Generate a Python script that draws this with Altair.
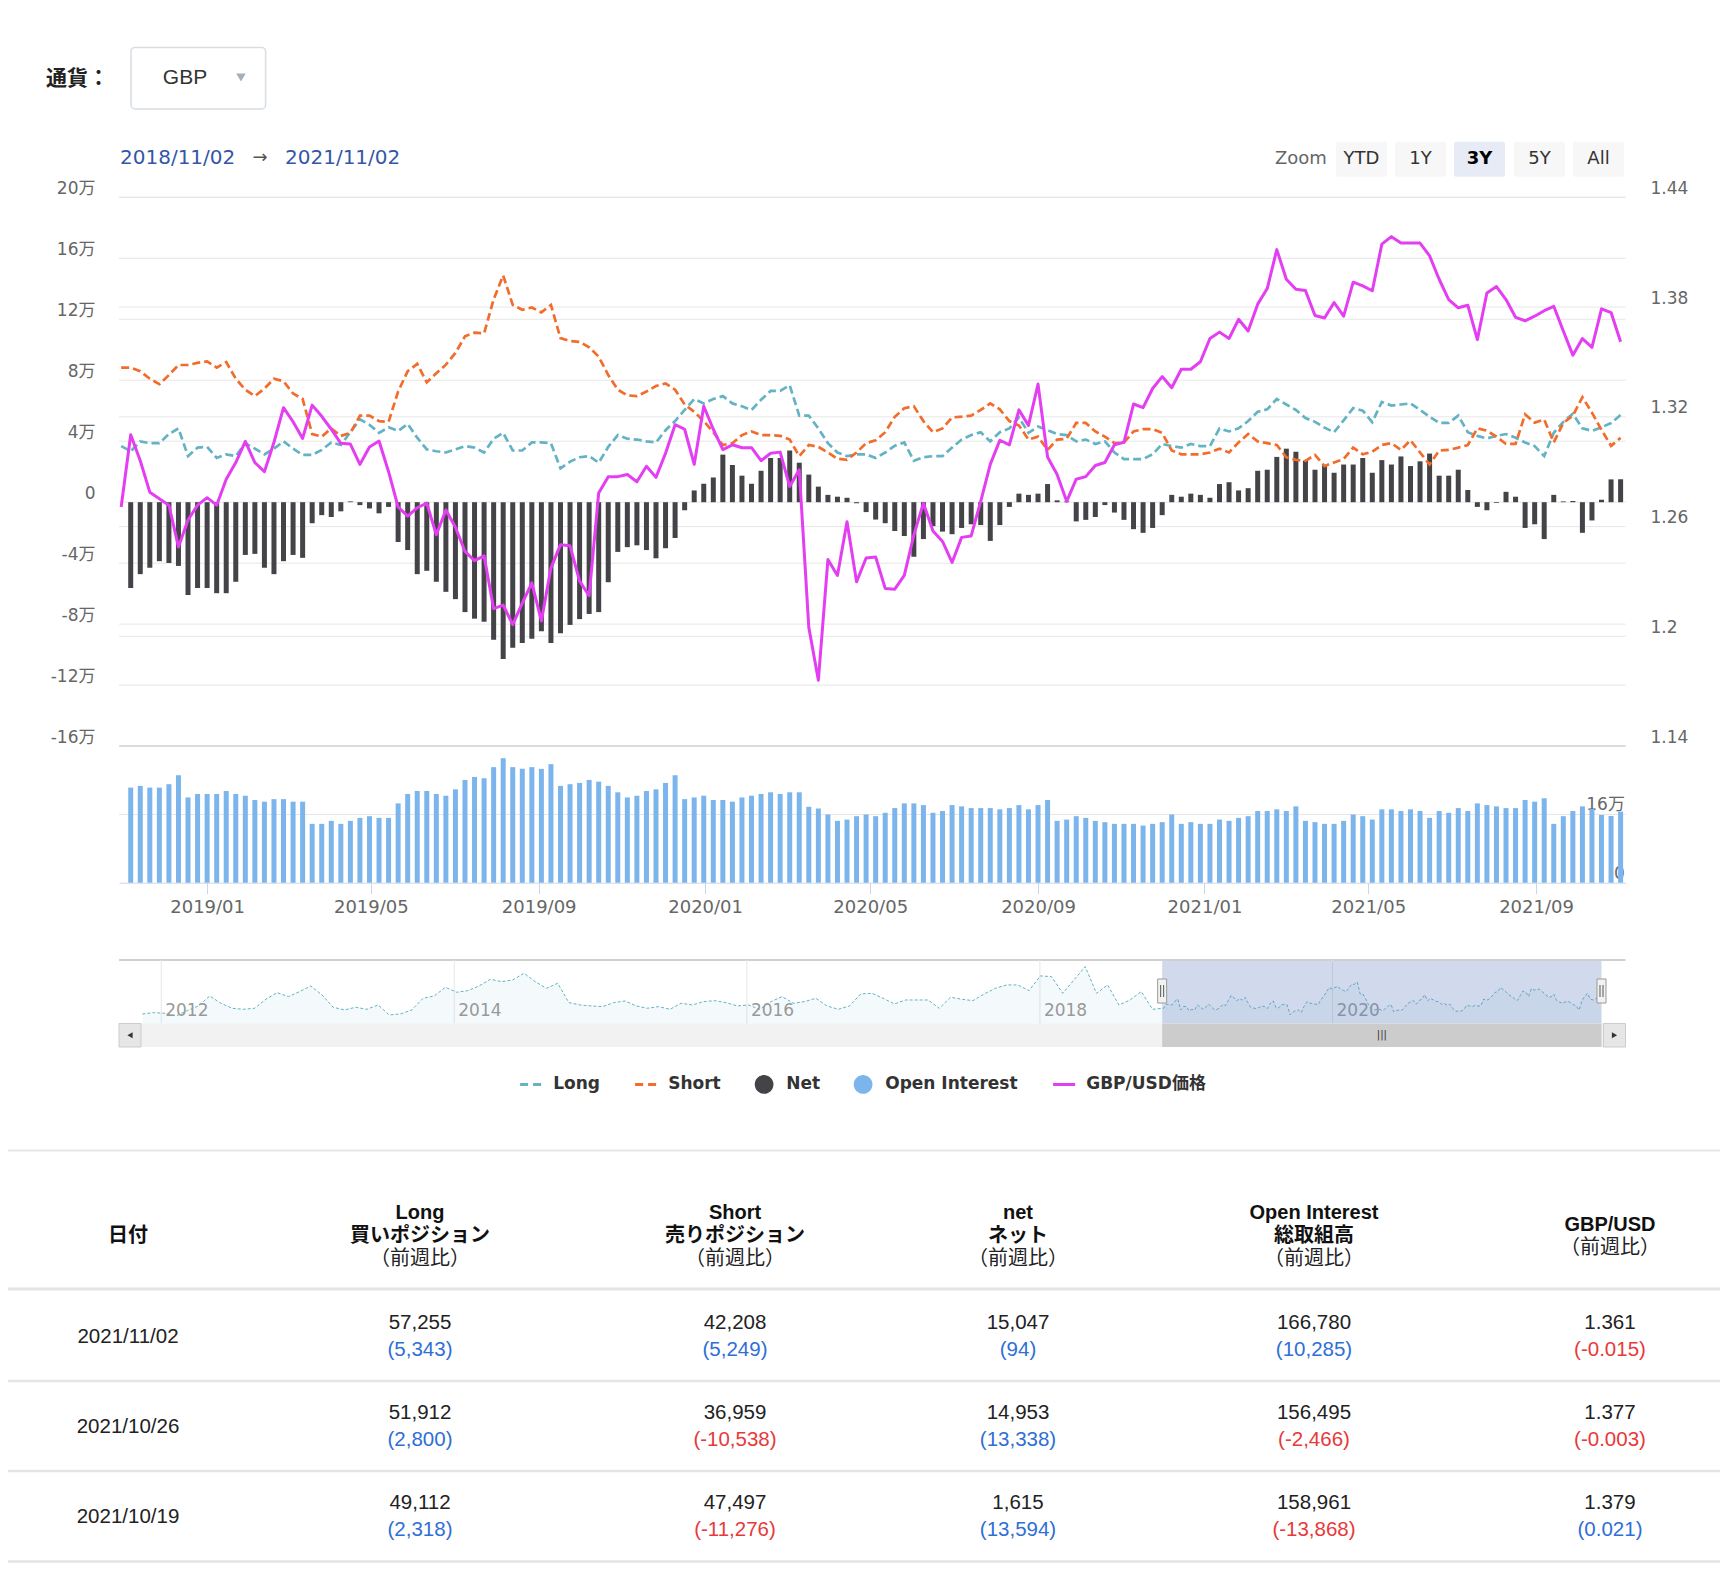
import altair as alt
import pandas as pd

# ============================ data ============================
CURRENCY = "GBP"
RANGE_FROM, RANGE_TO = "2018/11/02", "2021/11/02"
ZOOM_BUTTONS = ["YTD", "1Y", "3Y", "5Y", "All"]
ZOOM_ACTIVE = "3Y"
SERIES = ["Long", "Short", "Net", "Open Interest", "GBP/USD価格"]

# weekly (Tuesday) COT data, in 万 contracts; first point 2018-10-30
LINE_START = "2018-10-30"
LONG = [3.68,
        3.34, 3.99, 3.87, 3.87, 4.47, 4.84, 3.02, 3.58, 3.63, 2.90,
        3.14, 3.02, 3.87, 3.51, 3.14, 3.51, 3.99, 3.51, 3.10, 3.10,
        3.43, 3.92, 3.75, 4.59, 5.44, 5.08, 4.55, 4.91, 4.67, 5.13,
        4.23, 3.46, 3.34, 3.26, 3.46, 3.68, 3.58, 3.26, 4.16, 4.55,
        3.39, 3.39, 3.92, 3.92, 3.87, 2.22, 2.66, 2.95, 3.02, 2.59,
        3.63, 4.40, 4.16, 4.11, 3.99, 3.92, 4.72, 5.32, 6.05, 6.77,
        6.48, 6.77, 6.96, 6.48, 6.29, 6.05, 6.72, 7.30, 7.30, 7.67,
        5.68, 5.68, 4.84, 3.87, 3.26, 3.02, 3.14, 3.14, 2.90, 3.26,
        3.70, 3.92, 2.71, 2.95, 3.02, 3.02, 3.58, 4.11, 4.40, 4.59,
        3.99, 4.59, 4.84, 5.56, 4.55, 4.96, 4.72, 4.47, 4.40, 3.99,
        4.11, 3.82, 3.99, 3.26, 2.83, 2.83, 2.83, 3.14, 3.82, 3.68,
        3.58, 3.82, 3.68, 3.68, 4.84, 4.64, 4.84, 5.32, 5.93, 6.09,
        6.77, 6.41, 6.05, 5.52, 5.27, 4.89, 4.59, 5.37, 6.17, 6.00,
        5.25, 6.58, 6.34, 6.41, 6.48, 6.05, 5.61, 5.20, 5.20, 5.68,
        4.59, 4.35, 4.18, 4.35, 4.47, 4.23, 3.92, 3.68, 3.02, 4.55,
        5.27, 5.80, 4.84, 4.6794, 4.9112, 5.1912, 5.7255]
SHORT = [8.83,
         8.83, 8.59, 8.10, 7.74, 8.34, 9.00, 9.00, 9.14, 9.24, 8.83,
         9.19, 8.10, 7.38, 6.96, 7.45, 8.10, 7.93, 7.13, 6.77, 4.47,
         4.30, 4.84, 4.35, 4.55, 5.68, 5.68, 5.32, 5.27, 7.26, 8.59,
         9.07, 7.86, 8.46, 9.02, 9.79, 10.88, 11.12, 11.08, 13.30, 14.87,
         12.94, 12.62, 12.77, 12.45, 12.94, 10.76, 10.57, 10.52, 10.16, 9.55,
         8.34, 7.38, 7.01, 6.96, 7.26, 7.62, 7.79, 7.38, 6.41, 5.93,
         5.32, 4.59, 3.75, 3.87, 4.40, 4.64, 4.40, 4.40, 4.35, 4.11,
         3.02, 3.75, 3.63, 3.26, 2.85, 2.78, 3.26, 3.87, 4.06, 4.59,
         5.60, 6.17, 6.29, 5.32, 4.59, 4.84, 5.56, 5.61, 5.68, 6.05,
         6.48, 6.09, 5.32, 5.03, 4.11, 4.30, 3.43, 4.11, 4.16, 5.20,
         5.20, 4.64, 4.30, 3.87, 3.92, 4.64, 4.79, 4.79, 4.55, 3.39,
         3.14, 3.14, 3.14, 3.26, 3.51, 3.26, 3.92, 4.47, 3.99, 3.87,
         3.75, 2.95, 2.78, 2.71, 3.10, 2.37, 2.61, 2.83, 3.58, 3.14,
         3.31, 3.75, 3.87, 3.43, 4.06, 3.26, 2.47, 3.39, 3.43, 3.58,
         3.75, 4.84, 4.69, 4.30, 3.82, 3.82, 5.76, 5.22, 5.42, 3.92,
         5.20, 5.68, 6.89, 5.8773, 4.7497, 3.6959, 4.2208]
PRICE = [1.2707,
         1.3102, 1.2960, 1.2788, 1.2752, 1.2717, 1.2489, 1.2636, 1.2717, 1.2758, 1.2717,
         1.2859, 1.2950, 1.3066, 1.2950, 1.2900, 1.3061, 1.3250, 1.3173, 1.3082, 1.3264,
         1.3203, 1.3132, 1.3055, 1.3051, 1.2940, 1.3035, 1.3068, 1.2900, 1.2707, 1.2657,
         1.2703, 1.2728, 1.2555, 1.2691, 1.2596, 1.2464, 1.2414, 1.2440, 1.2151, 1.2171,
         1.2064, 1.2181, 1.2292, 1.2084, 1.2373, 1.2501, 1.2495, 1.2302, 1.2222, 1.2784,
         1.2873, 1.2873, 1.2885, 1.2845, 1.2930, 1.2869, 1.3001, 1.3157, 1.3132, 1.2940,
         1.3258, 1.3132, 1.3021, 1.3047, 1.3031, 1.3031, 1.2960, 1.3001, 1.3007, 1.2819,
         1.2910, 1.2049, 1.1760, 1.2420, 1.2333, 1.2626, 1.2298, 1.2428, 1.2434, 1.2262,
         1.2258, 1.2333, 1.2555, 1.2728, 1.2576, 1.2519, 1.2404, 1.2541, 1.2549, 1.2738,
         1.2940, 1.3072, 1.3047, 1.3238, 1.3153, 1.3379, 1.2980, 1.2885, 1.2738, 1.2859,
         1.2873, 1.2934, 1.2950, 1.3047, 1.3061, 1.3270, 1.3250, 1.3355, 1.3420, 1.3359,
         1.3460, 1.3460, 1.3501, 1.3628, 1.3663, 1.3628, 1.3733, 1.3669, 1.3816, 1.3901,
         1.4114, 1.3952, 1.3897, 1.3891, 1.3754, 1.3740, 1.3825, 1.3750, 1.3936, 1.3916,
         1.3889, 1.4144, 1.4185, 1.4150, 1.4150, 1.4150, 1.4080, 1.3952, 1.3841, 1.3796,
         1.3810, 1.3622, 1.3877, 1.3912, 1.3841, 1.3744, 1.3725, 1.3750, 1.3780, 1.3804,
         1.3669, 1.3537, 1.3628, 1.358, 1.379, 1.377, 1.361]
# bars start one week later: 2018-11-06
NET = [-5.63, -4.72, -4.30, -3.87, -3.99, -4.18, -6.09, -5.63, -5.63, -5.97,
       -5.97, -5.22, -3.46, -3.39, -4.30, -4.72, -3.87, -3.46, -3.65, -1.38,
       -0.85, -0.97, -0.60, 0.05, -0.19, -0.41, -0.73, -0.31, -2.61, -3.14,
       -4.72, -4.50, -5.22, -5.88, -6.36, -7.21, -7.64, -7.84, -9.02, -10.28,
       -9.55, -9.24, -8.95, -8.46, -9.24, -8.59, -8.05, -7.67, -7.33, -7.21,
       -5.25, -3.26, -2.95, -2.83, -3.14, -3.68, -3.02, -2.35, -0.53, 0.77,
       1.21, 1.62, 3.12, 2.44, 1.74, 1.21, 2.06, 2.90, 2.90, 3.39,
       2.59, 1.81, 1.02, 0.48, 0.36, 0.29, -0.07, -0.65, -1.14, -1.38,
       -1.89, -2.22, -3.58, -2.42, -1.57, -1.93, -2.10, -1.69, -1.45, -1.50,
       -2.54, -1.50, -0.31, 0.56, 0.48, 0.56, 1.19, 0.12, 0.05, -1.26,
       -1.16, -0.97, -0.19, -0.68, -1.16, -1.77, -2.01, -1.69, -0.85, 0.48,
       0.36, 0.56, 0.48, 0.29, 1.19, 1.31, 0.77, 0.92, 2.06, 2.13,
       2.97, 3.51, 3.31, 2.73, 2.13, 2.42, 1.93, 2.47, 2.47, 2.90,
       1.93, 2.76, 2.47, 3.00, 2.37, 2.68, 3.19, 1.74, 1.74, 2.13,
       0.80, -0.31, -0.53, -0.05, 0.68, 0.36, -1.69, -1.45, -2.42, 0.48,
       0.05, 0.08, -2.01, -1.1979, 0.1615, 1.4953, 1.5047]
OI = [22.3, 22.7, 22.3, 22.3, 23.1, 25.2, 20.0, 20.8, 20.8, 20.8,
      21.5, 20.8, 20.4, 19.4, 19.0, 19.6, 19.6, 19.0, 19.0, 13.8,
      13.8, 14.5, 13.8, 14.5, 15.2, 15.6, 15.2, 15.2, 18.6, 20.8,
      21.5, 21.5, 20.8, 20.4, 21.9, 24.1, 24.8, 24.5, 27.1, 29.2,
      27.1, 26.7, 27.1, 26.7, 27.8, 22.7, 23.1, 23.4, 24.1, 23.7,
      22.7, 21.2, 20.0, 20.4, 21.5, 21.9, 23.4, 25.2, 19.6, 20.0,
      20.4, 19.4, 19.4, 19.0, 20.0, 20.4, 20.8, 21.2, 20.8, 21.2,
      21.2, 17.8, 17.4, 16.0, 14.5, 14.8, 15.6, 16.0, 15.6, 16.4,
      17.5, 18.6, 18.6, 18.2, 16.4, 16.8, 18.2, 17.9, 17.5, 17.5,
      17.5, 17.2, 17.5, 18.2, 17.2, 18.2, 19.4, 14.5, 14.8, 15.6,
      15.2, 14.5, 14.2, 13.8, 13.8, 13.8, 13.4, 13.8, 14.2, 16.0,
      13.8, 14.2, 13.8, 13.8, 14.8, 14.5, 15.2, 15.6, 16.8, 16.8,
      17.2, 16.8, 17.9, 14.5, 14.2, 13.8, 13.8, 14.5, 16.0, 15.6,
      14.8, 17.2, 17.2, 16.8, 17.2, 16.8, 15.2, 16.8, 16.4, 17.5,
      16.8, 18.6, 18.2, 17.9, 17.5, 17.5, 19.4, 19.0, 19.8, 13.8,
      15.6, 16.8, 17.9, 17.2829, 15.8961, 15.6495, 16.678]
# navigator history of Long (every 4 weeks from 2011-11-15 to 2018-10-09)
NAV_START = "2011-11-15"
NAV_HIST = [2.37, 2.59, 2.48, 2.03, 2.92, 3.70, 5.36, 4.14, 3.31, 3.14,
            3.31, 4.81, 5.91, 5.25, 6.08, 7.02, 5.53, 3.48, 3.03, 3.48,
            3.14, 3.86, 2.20, 2.37, 3.03, 4.97, 5.36, 6.80, 5.97, 6.25,
            7.02, 8.13, 7.74, 8.02, 9.13, 7.74, 6.63, 7.47, 4.25, 3.86,
            3.70, 3.59, 4.25, 4.53, 3.70, 3.31, 3.59, 3.14, 4.14, 3.86,
            4.42, 4.58, 4.25, 3.70, 3.86, 3.14, 4.42, 5.25, 4.14, 4.42,
            4.97, 3.70, 3.14, 3.70, 5.69, 5.80, 4.97, 4.03, 4.69, 4.69,
            4.69, 3.31, 5.14, 4.81, 4.58, 5.69, 6.63, 7.19, 7.19, 6.25,
            8.69, 8.57, 5.80, 8.02, 10.24, 5.80, 7.19, 3.86, 4.69, 6.08,
            3.14]
NAV_END = "2021-11-02"

LEFT_TICKS = [-16, -12, -8, -4, 0, 4, 8, 12, 16, 20]
RIGHT_TICKS = [1.14, 1.2, 1.26, 1.32, 1.38, 1.44]
OI_TICKS = [0, 16]
X_TICKS = ["2019-01-01", "2019-05-01", "2019-09-01", "2020-01-01", "2020-05-01",
           "2020-09-01", "2021-01-01", "2021-05-01", "2021-09-01"]
NAV_YEARS = ["2012", "2014", "2016", "2018", "2020"]

TBL_DATES = ["2021/11/02", "2021/10/26", "2021/10/19"]
TBL_LONG = [57255, 51912, 49112]
TBL_LONG_CHG = [5343, 2800, 2318]
TBL_SHORT = [42208, 36959, 47497]
TBL_SHORT_CHG = [5249, -10538, -11276]
TBL_NET = [15047, 14953, 1615]
TBL_NET_CHG = [94, 13338, 13594]
TBL_OI = [166780, 156495, 158961]
TBL_OI_CHG = [10285, -2466, -13868]
TBL_PX = [1.361, 1.377, 1.379]
TBL_PX_CHG = [-0.015, -0.003, 0.021]
TBL_HEAD = [("日付", 0, 1, True),
            ("Long", 1, 0, True), ("買いポジション", 1, 1, True), ("（前週比）", 1, 2, False),
            ("Short", 2, 0, True), ("売りポジション", 2, 1, True), ("（前週比）", 2, 2, False),
            ("net", 3, 0, True), ("ネット", 3, 1, True), ("（前週比）", 3, 2, False),
            ("Open Interest", 4, 0, True), ("総取組高", 4, 1, True), ("（前週比）", 4, 2, False),
            ("GBP/USD", 5, 0.5, True), ("（前週比）", 5, 1.5, False)]

# ============================ layout / style ============================
W, H = 1712, 1564
PL, PR = 111.0, 1617.5          # plot left / right
MT, MB = 189.3, 738.1           # main panel top / bottom
OIB, OIT = 874.7, 739.1         # open-interest panel bottom / top
NT, NB, SB = 952.0, 1015.5, 1039.0
NAV_L, NAV_R = 134.4, 1593.5

TEAL, ORANGE, DARK, BLUE, MAG = "#64b3c4", "#f26c2b", "#434348", "#7cb5ec", "#e43ef2"
GRID, AXT = "#e6e6e6", "#666666"
AXFONT = "DejaVu Sans, Noto Sans CJK JP"
TFONT = "Liberation Sans, Noto Sans CJK JP"
CJK = "Noto Sans CJK JP"


def ms(s):
    return int(pd.Timestamp(s, tz="UTC").value // 1_000_000)


line_t = (pd.date_range(LINE_START, periods=len(LONG), freq="7D", tz="UTC").asi8 // 1_000_000).tolist()
bar_t = line_t[1:]
lines_df = pd.DataFrame({"t": line_t, "long": LONG, "short": SHORT, "price": PRICE})
bars_df = pd.DataFrame({"t": bar_t, "net": NET, "oi": OI})
nav_t = (pd.date_range(NAV_START, periods=len(NAV_HIST), freq="28D", tz="UTC").asi8 // 1_000_000).tolist() + bar_t
nav_df = pd.DataFrame({"t": nav_t, "v": NAV_HIST + LONG[1:]})
sel_s = ms(RANGE_FROM.replace("/", "-"))
sel_e = ms(RANGE_TO.replace("/", "-"))
sel_df = pd.DataFrame({"s": [sel_s], "e": [sel_e], "m": [(sel_s + sel_e) // 2]})
hnd_df = pd.DataFrame({"t": [sel_s, sel_e]})
years_df = pd.DataFrame({"t": [ms(y + "-01-01") for y in NAV_YEARS], "lbl": NAV_YEARS})

X_MAIN = alt.Scale(type="utc", domain=[ms("2018-10-28T10:00"), ms("2021-11-05T14:00")],
                   range=[PL, PR], padding=0)
Y_L = alt.Scale(domain=[-16, 20], range=[MB, MT])
Y_R = alt.Scale(domain=[1.14, 1.44], range=[MB, MT])
Y_OI = alt.Scale(domain=[0, 31.8], range=[OIB, OIT])
X_NAV = alt.Scale(type="utc", domain=[ms(NAV_START), ms(NAV_END)], range=[NAV_L, NAV_R], padding=0)
Y_NAV = alt.Scale(domain=[0.78, 11.17], range=[NB, NT + 1])
X_TBL = alt.Scale(domain=[0, 1, 2, 3, 4, 5], range=[120, 412, 727, 1010, 1306, 1602])
Y_HDR = alt.Scale(domain=[0, 2], range=[1205, 1251])
Y_ROW = alt.Scale(domain=[0, 2], range=[1314.5, 1494.5])

ONE = pd.DataFrame({"k": [0]})
MAN = "datum.value == 0 ? '0' : datum.value + '万'"


def yaxis(orient, values, expr, offset, align, lo=-9):
    return alt.Axis(orient=orient, values=values, labelExpr=expr, offset=offset, labelAlign=align,
                    labelPadding=0, ticks=False, tickSize=0, domain=False, grid=False, title=None,
                    labelFont=AXFONT, labelFontSize=17, labelColor=AXT, labelOffset=lo,
                    labelOverlap=False, labelFlush=False, labelBaseline="middle")


def txt(text, x, y, size, color="#333333", weight="normal", align="left", font=AXFONT):
    return alt.Chart(pd.DataFrame({"t": [text]})).mark_text(
        align=align, baseline="middle", fontSize=size, color=color, fontWeight=weight, font=font
    ).encode(x=alt.value(x), y=alt.value(y), text="t:N")


def rect(x1, y1, x2, y2, fill, stroke=None, sw=1.0, radius=0):
    kw = dict(fill=fill, cornerRadius=radius)
    if stroke:
        kw.update(stroke=stroke, strokeWidth=sw)
    else:
        kw.update(strokeWidth=0)
    return alt.Chart(ONE).mark_rect(**kw).encode(
        x=alt.value(x1), x2=alt.value(x2), y=alt.value(y1), y2=alt.value(y2))


def hline(y, x1, x2, color, width):
    return alt.Chart(ONE).mark_rule(color=color, strokeWidth=width).encode(
        x=alt.value(x1), x2=alt.value(x2), y=alt.value(y))


layers = []

# ---------- header ----------
layers += [
    txt("通貨：", 38, 70.5, 21, "#222222", "bold", font=CJK),
    rect(123, 39.4, 257.6, 101, "#ffffff", "#d6dde3", 1.5, 4),
    txt(CURRENCY, 177, 70, 21, "#333333", align="center", font=TFONT),
    alt.Chart(ONE).mark_point(shape="triangle-down", filled=True, size=90, color="#a6aeb7", opacity=1)
       .encode(x=alt.value(233), y=alt.value(69.5)),
    txt(RANGE_FROM, 112, 149.6, 20, "#3556a8"),
    txt("→", 252, 149.6, 18, "#555555", align="center"),
    txt(RANGE_TO, 277, 149.6, 20, "#3556a8"),
    txt("Zoom", 1267, 151, 18, "#666666"),
]
BTN_X = [(1328, 1379), (1387, 1438), (1446, 1497), (1506, 1557), (1565, 1616)]
for name, (a, b) in zip(ZOOM_BUTTONS, BTN_X):
    active = name == ZOOM_ACTIVE
    layers.append(rect(a, 133.7, b, 168.7, "#e6ebf5" if active else "#f7f7f7", radius=2))
    layers.append(txt(name, (a + b) / 2, 151, 18, "#000000" if active else "#333333",
                      "bold" if active else "normal", align="center"))

# ---------- gridlines + axes ----------
layers += [
    alt.Chart(pd.DataFrame({"v": LEFT_TICKS})).mark_rule(color=GRID, strokeWidth=1).encode(
        y=alt.Y("v:Q", scale=Y_L, axis=yaxis("left", LEFT_TICKS, MAN, -87, "right")),
        x=alt.value(PL), x2=alt.value(PR)),
    alt.Chart(pd.DataFrame({"v": RIGHT_TICKS})).mark_rule(color=GRID, strokeWidth=1).encode(
        y=alt.Y("v:Q", scale=Y_R, axis=yaxis("right", RIGHT_TICKS, "format(datum.value, '.2~f')", -70, "left")),
        x=alt.value(PL), x2=alt.value(PR)),
    hline(MB, PL, PR, "#dcdcdc", 2),
    alt.Chart(pd.DataFrame({"v": OI_TICKS[1:]})).mark_rule(color=GRID, strokeWidth=1).encode(
        y=alt.Y("v:Q", scale=Y_OI, axis=yaxis("right", OI_TICKS, MAN, -95.6, "right", -9.5)),
        x=alt.value(PL), x2=alt.value(PR)),
]

# ---------- navigator ----------
layers += [
    hline(NT, PL, PR, "#d0d0d0", 2),
    alt.Chart(years_df).mark_rule(color=GRID, strokeWidth=1).encode(
        x=alt.X("t:T", scale=X_NAV, axis=None), y=alt.value(NT), y2=alt.value(NB)),
    alt.Chart(nav_df).mark_area(color=TEAL, opacity=0.07).encode(
        x=alt.X("t:T", scale=X_NAV, axis=None), y=alt.Y("v:Q", scale=Y_NAV, axis=None), y2=alt.value(NB)),
    alt.Chart(nav_df).mark_line(color=TEAL, strokeWidth=1, strokeDash=[3, 2]).encode(
        x=alt.X("t:T", scale=X_NAV, axis=None), y=alt.Y("v:Q", scale=Y_NAV, axis=None)),
    alt.Chart(years_df).mark_text(align="left", baseline="middle", dx=4, fontSize=17, color="#999999",
                                  font=AXFONT).encode(
        x=alt.X("t:T", scale=X_NAV, axis=None), y=alt.value(1002.6), text="lbl:N"),
    alt.Chart(sel_df).mark_rect(color="#6685c2", opacity=0.3).encode(
        x=alt.X("s:T", scale=X_NAV, axis=None), x2="e", y=alt.value(NT + 1), y2=alt.value(NB)),
    rect(PL, NB, PR, SB, "#f2f2f2"),
    alt.Chart(sel_df).mark_rect(color="#cccccc").encode(
        x=alt.X("s:T", scale=X_NAV, axis=None), x2="e", y=alt.value(NB), y2=alt.value(SB)),
    alt.Chart(sel_df).mark_text(fontSize=10, color="#333333", font=AXFONT, baseline="middle").encode(
        x=alt.X("m:T", scale=X_NAV, axis=None), y=alt.value((NB + SB) / 2), text=alt.value("|||")),
    rect(PL, NB, PL + 22, SB, "#e6e6e6", "#cccccc", 1),
    rect(PR - 22, NB, PR, SB, "#e6e6e6", "#cccccc", 1),
    alt.Chart(ONE).mark_point(shape="triangle-left", filled=True, size=36, color="#333333", opacity=1)
       .encode(x=alt.value(PL + 11), y=alt.value((NB + SB) / 2)),
    alt.Chart(ONE).mark_point(shape="triangle-right", filled=True, size=36, color="#333333", opacity=1)
       .encode(x=alt.value(PR - 11), y=alt.value((NB + SB) / 2)),
    alt.Chart(hnd_df).mark_rect(fill="#f2f2f2", stroke="#999999", strokeWidth=1, xOffset=-4.5, x2Offset=4.5)
       .encode(x=alt.X("t:T", scale=X_NAV, axis=None), x2="t", y=alt.value(971), y2=alt.value(995)),
    alt.Chart(hnd_df).mark_rule(color="#555555", strokeWidth=1, xOffset=-1.5)
       .encode(x=alt.X("t:T", scale=X_NAV, axis=None), y=alt.value(977), y2=alt.value(989)),
    alt.Chart(hnd_df).mark_rule(color="#555555", strokeWidth=1, xOffset=1.5)
       .encode(x=alt.X("t:T", scale=X_NAV, axis=None), y=alt.value(977), y2=alt.value(989)),
]

# ---------- data series ----------
XAX = alt.Axis(orient="bottom", offset=OIB - H, values=[ms(d) for d in X_TICKS], format="%Y/%m",
               labelFont=AXFONT, labelFontSize=18, labelColor=AXT, tickColor="#ccd6eb", tickSize=11,
               tickWidth=1, domainColor="#ccd6eb", domainWidth=1, labelPadding=5, title=None,
               grid=False, labelFlush=False, labelOverlap=False)
layers += [
    alt.Chart(bars_df).mark_bar(size=5, color=DARK).encode(
        x=alt.X("t:T", scale=X_MAIN, axis=None), y=alt.Y("net:Q", scale=Y_L, axis=None)),
    alt.Chart(bars_df).mark_bar(size=5, color=BLUE).encode(
        x=alt.X("t:T", scale=X_MAIN, axis=XAX), y=alt.Y("oi:Q", scale=Y_OI, axis=None)),
    alt.Chart(lines_df).mark_line(color=TEAL, strokeWidth=2.7, strokeDash=[8, 4]).encode(
        x=alt.X("t:T", scale=X_MAIN, axis=None), y=alt.Y("long:Q", scale=Y_L, axis=None)),
    alt.Chart(lines_df).mark_line(color=ORANGE, strokeWidth=2.7, strokeDash=[8, 4]).encode(
        x=alt.X("t:T", scale=X_MAIN, axis=None), y=alt.Y("short:Q", scale=Y_L, axis=None)),
    alt.Chart(lines_df).mark_line(color=MAG, strokeWidth=3, strokeJoin="round").encode(
        x=alt.X("t:T", scale=X_MAIN, axis=None), y=alt.Y("price:Q", scale=Y_R, axis=None)),
]

# ---------- legend ----------
LINE_SYM = "M-1.4,-1M-1.4,0L1.4,0M1.4,1"   # a line symbol with the same box as the circle
SER_COLORS = [TEAL, ORANGE, DARK, BLUE, MAG]
SER_SHAPES = [LINE_SYM, LINE_SYM, "circle", "circle", LINE_SYM]
SER_DASH = [[8, 5], [8, 5], [1, 0], [1, 0], [1, 0]]
LEG = alt.Legend(title=None, orient="none", legendX=513.6, legendY=1066.6, direction="horizontal",
                 labelFont="DejaVu Sans, Noto Sans CJK JP", labelFontSize=17, labelFontWeight="bold",
                 labelColor="#333333", symbolSize=246, symbolStrokeWidth=3, labelOffset=12.6,
                 columnPadding=28, padding=0, offset=0, labelLimit=0)
layers.append(
    alt.Chart(pd.DataFrame({"s": SERIES})).mark_point(filled=True, opacity=1, size=100).encode(
        x=alt.value(-60), y=alt.value(-60),
        fill=alt.Fill("s:N", scale=alt.Scale(domain=SERIES, range=SER_COLORS), legend=LEG),
        stroke=alt.Stroke("s:N", scale=alt.Scale(domain=SERIES, range=SER_COLORS), legend=LEG),
        shape=alt.Shape("s:N", scale=alt.Scale(domain=SERIES, range=SER_SHAPES), legend=LEG),
        strokeDash=alt.StrokeDash("s:N", scale=alt.Scale(domain=SERIES, range=SER_DASH), legend=LEG),
    ))

# ---------- table ----------
hdr_df = pd.DataFrame(TBL_HEAD, columns=["text", "c", "yk", "bold"])
cells = []
cols = [(TBL_LONG, TBL_LONG_CHG), (TBL_SHORT, TBL_SHORT_CHG), (TBL_NET, TBL_NET_CHG), (TBL_OI, TBL_OI_CHG)]
for r in range(3):
    for ci, (vals, chg) in enumerate(cols, start=1):
        cells.append({"r": r, "c": ci, "val": f"{vals[r]:,}", "chg": f"({chg[r]:,})",
                      "sign": "neg" if chg[r] < 0 else "pos"})
    cells.append({"r": r, "c": 5, "val": f"{TBL_PX[r]:.3f}", "chg": f"({TBL_PX_CHG[r]:.3f})",
                  "sign": "neg" if TBL_PX_CHG[r] < 0 else "pos"})
cells_df = pd.DataFrame(cells)
dates_df = pd.DataFrame({"r": [0, 1, 2], "c": [0, 0, 0], "d": TBL_DATES})

layers += [
    hline(1142.5, 0, W, "#e4e7ea", 2),
    alt.Chart(hdr_df[hdr_df["bold"]]).mark_text(fontSize=20, fontWeight="bold", color="#111111",
                                                font=TFONT, baseline="middle").encode(
        x=alt.X("c:Q", scale=X_TBL, axis=None), y=alt.Y("yk:Q", scale=Y_HDR, axis=None), text="text:N"),
    alt.Chart(hdr_df[~hdr_df["bold"]]).mark_text(fontSize=20, color="#222222",
                                                 font=TFONT, baseline="middle").encode(
        x=alt.X("c:Q", scale=X_TBL, axis=None), y=alt.Y("yk:Q", scale=Y_HDR, axis=None), text="text:N"),
    hline(1281, 0, W, "#e1e5e8", 3),
    alt.Chart(cells_df).mark_text(fontSize=20.5, color="#222222", font=TFONT, baseline="middle").encode(
        x=alt.X("c:Q", scale=X_TBL, axis=None), y=alt.Y("r:Q", scale=Y_ROW, axis=None), text="val:N"),
    alt.Chart(cells_df).mark_text(fontSize=20.5, font=TFONT, baseline="middle", dy=27.5).encode(
        x=alt.X("c:Q", scale=X_TBL, axis=None), y=alt.Y("r:Q", scale=Y_ROW, axis=None), text="chg:N",
        color=alt.Color("sign:N", scale=alt.Scale(domain=["pos", "neg"], range=["#2f6fd6", "#e8393a"]),
                        legend=None)),
    alt.Chart(dates_df).mark_text(fontSize=20.5, color="#222222", font=TFONT, baseline="middle", dy=14.5).encode(
        x=alt.X("c:Q", scale=X_TBL, axis=None), y=alt.Y("r:Q", scale=Y_ROW, axis=None), text="d:N"),
    hline(1373, 0, W, "#e1e5e8", 2.5),
    hline(1463, 0, W, "#e1e5e8", 2.5),
    hline(1553.6, 0, W, "#e1e5e8", 2.5),
]

chart = alt.layer(*layers).resolve_scale(x="independent", y="independent").properties(
    width=W, height=H, padding=0, autosize=alt.AutoSizeParams(type="none"), background="white"
).configure_view(strokeWidth=0)

chart.save("out.html", embed_options={"renderer": "svg", "actions": False})
